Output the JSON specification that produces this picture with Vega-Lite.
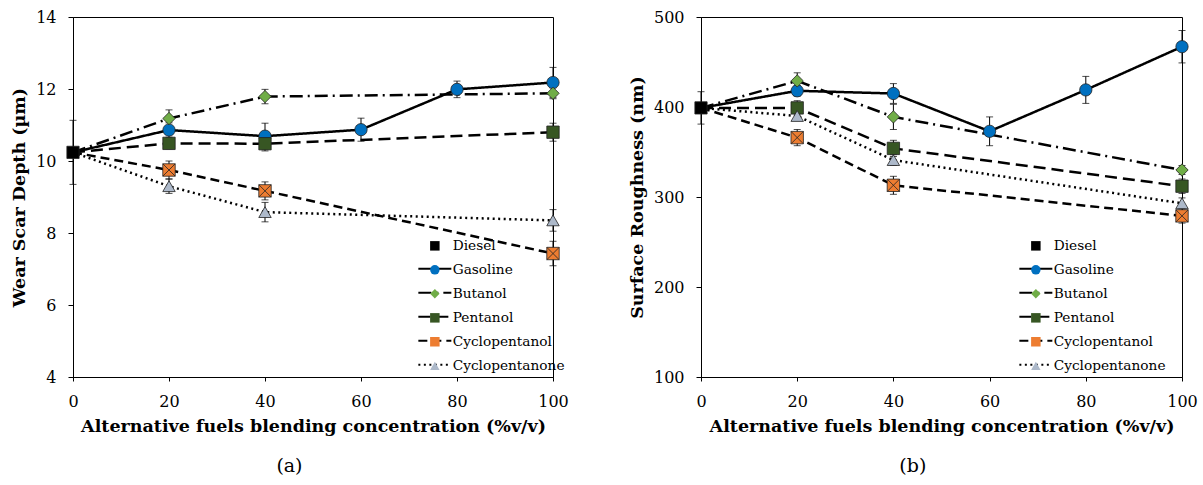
{
  "$schema": "https://vega.github.io/schema/vega-lite/v6.json",
  "padding": {"left": 10, "top": 8, "right": 0, "bottom": 0},
  "config": {
    "font": "DejaVu Serif",
    "view": {"stroke": "black", "strokeWidth": 1},
    "axis": {
      "grid": false, "labelFlush": false,
      "labelFont": "DejaVu Serif", "labelFontSize": 16, "labelColor": "black",
      "titleFont": "DejaVu Serif", "titleFontSize": 17.5, "titleFontWeight": "bold", "titleColor": "black",
      "domainColor": "black", "tickColor": "black", "tickSize": 5, "domainWidth": 1, "tickWidth": 1
    },
    "axisX": {"labelPadding": 12, "titlePadding": 8, "tickSize": 4},
    "axisY": {"labelPadding": 12, "titlePadding": 7},
    "legend": {"labelFont": "DejaVu Serif", "labelFontSize": 13.7, "labelColor": "black", "padding": 0}
  },
  "datasets": {
    "pts": [
      {"series": "Gasoline", "x": 0, "a": 10.24, "ea": 0, "b": 399, "eb": 0},
      {"series": "Gasoline", "x": 20, "a": 10.86, "ea": 0.2, "b": 418, "eb": 6},
      {"series": "Gasoline", "x": 40, "a": 10.69, "ea": 0.36, "b": 415, "eb": 11},
      {"series": "Gasoline", "x": 60, "a": 10.87, "ea": 0.32, "b": 373, "eb": 16},
      {"series": "Gasoline", "x": 80, "a": 11.99, "ea": 0.23, "b": 419, "eb": 15},
      {"series": "Gasoline", "x": 100, "a": 12.18, "ea": 0.42, "b": 467, "eb": 18},
      {"series": "Butanol", "x": 0, "a": 10.24, "ea": 0, "b": 399, "eb": 0},
      {"series": "Butanol", "x": 20, "a": 11.18, "ea": 0.24, "b": 429, "eb": 9},
      {"series": "Butanol", "x": 40, "a": 11.79, "ea": 0.2, "b": 389, "eb": 14},
      {"series": "Butanol", "x": 100, "a": 11.88, "ea": 0.15, "b": 330, "eb": 5},
      {"series": "Pentanol", "x": 0, "a": 10.24, "ea": 0, "b": 399, "eb": 0},
      {"series": "Pentanol", "x": 20, "a": 10.49, "ea": 0.15, "b": 399, "eb": 8},
      {"series": "Pentanol", "x": 40, "a": 10.48, "ea": 0.2, "b": 354, "eb": 9},
      {"series": "Pentanol", "x": 100, "a": 10.8, "ea": 0.25, "b": 312, "eb": 8},
      {"series": "Cyclopentanol", "x": 0, "a": 10.24, "ea": 0, "b": 399, "eb": 0},
      {"series": "Cyclopentanol", "x": 20, "a": 9.75, "ea": 0.25, "b": 366, "eb": 9},
      {"series": "Cyclopentanol", "x": 40, "a": 9.17, "ea": 0.25, "b": 313, "eb": 10},
      {"series": "Cyclopentanol", "x": 100, "a": 7.43, "ea": 0.34, "b": 279, "eb": 8},
      {"series": "Cyclopentanone", "x": 0, "a": 10.24, "ea": 0, "b": 399, "eb": 0},
      {"series": "Cyclopentanone", "x": 20, "a": 9.3, "ea": 0.2, "b": 390, "eb": 5},
      {"series": "Cyclopentanone", "x": 40, "a": 8.58, "ea": 0.27, "b": 341, "eb": 6},
      {"series": "Cyclopentanone", "x": 100, "a": 8.35, "ea": 0.3, "b": 293, "eb": 6},
      {"series": "Diesel", "x": 0, "a": 10.24, "ea": 0.89, "b": 399, "eb": 18}
    ]
  },
  "data": {"name": "pts"},
  "spacing": 58,
  "resolve": {"legend": {"fill": "independent", "shape": "independent", "strokeDash": "independent"}},
  "hconcat": [
    {
      "width": 480, "height": 360,
      "title": {"text": "(a)", "orient": "bottom", "anchor": "middle", "frame": "bounds", "font": "DejaVu Serif", "fontSize": 19, "fontWeight": "normal", "color": "black", "offset": 22},
      "layer": [
        {
          "transform": [{"filter": "datum.ea > 0"}],
          "mark": {"type": "errorbar", "color": "black", "thickness": 1, "ticks": {"size": 7, "color": "black"}},
          "encoding": {
            "x": {"field": "x", "type": "quantitative", "scale": {"domain": [0, 100], "nice": false}, "axis": {"values": [0, 20, 40, 60, 80, 100], "title": "Alternative fuels blending concentration (%v/v)"}},
            "y": {"field": "a", "type": "quantitative", "scale": {"domain": [4, 14], "nice": false, "zero": false}, "axis": {"values": [4, 6, 8, 10, 12, 14], "title": "Wear Scar Depth (µm)"}},
            "yError": {"field": "ea"}
          }
        },
        {
          "transform": [{"filter": "datum.series != 'Diesel'"}],
          "mark": {"type": "line", "color": "black", "strokeWidth": 2.5},
          "encoding": {
            "x": {"field": "x", "type": "quantitative", "scale": {"domain": [0, 100], "nice": false}, "axis": {"values": [0, 20, 40, 60, 80, 100], "title": "Alternative fuels blending concentration (%v/v)"}},
            "y": {"field": "a", "type": "quantitative", "scale": {"domain": [4, 14], "nice": false, "zero": false}, "axis": {"values": [4, 6, 8, 10, 12, 14], "title": "Wear Scar Depth (µm)"}},
            "order": {"field": "x"},
            "strokeDash": {"field": "series", "type": "nominal",
              "scale": {"domain": ["Gasoline", "Butanol", "Pentanol", "Cyclopentanol", "Cyclopentanone"], "range": [[1, 0], [13, 5, 2, 5], [12, 6], [9, 5], [2, 3.5]]},
              "legend": {"orient": "none", "legendX": 355, "legendY": 245, "title": null, "symbolType": "M-3,0H3", "symbolSize": 121, "symbolStrokeWidth": 2, "symbolStrokeColor": "black", "symbolFillColor": "transparent", "labelOpacity": 0, "labelOffset": 11, "rowPadding": 9, "zindex": 1}}
          }
        },
        {
          "transform": [{"filter": "datum.series == 'Diesel' || datum.x > 0"}],
          "mark": {"type": "point", "filled": true, "opacity": 1, "stroke": "#222222", "strokeWidth": 0.8},
          "encoding": {
            "x": {"field": "x", "type": "quantitative", "scale": {"domain": [0, 100], "nice": false}, "axis": {"values": [0, 20, 40, 60, 80, 100], "title": "Alternative fuels blending concentration (%v/v)"}},
            "y": {"field": "a", "type": "quantitative", "scale": {"domain": [4, 14], "nice": false, "zero": false}, "axis": {"values": [4, 6, 8, 10, 12, 14], "title": "Wear Scar Depth (µm)"}},
            "fill": {"field": "series", "type": "nominal",
              "scale": {"domain": ["Diesel", "Gasoline", "Butanol", "Pentanol", "Cyclopentanol", "Cyclopentanone"], "range": ["#000000", "#0070C0", "#70AD47", "#375623", "#ED7D31", "#ADB9CA"]},
              "legend": {"orient": "none", "legendX": 355, "legendY": 222, "title": null, "symbolSize": 90, "symbolStrokeColor": "#222222", "symbolStrokeWidth": 0.8, "labelOffset": 11, "rowPadding": 9, "zindex": 2}},
            "shape": {"field": "series", "type": "nominal",
              "scale": {"domain": ["Diesel", "Gasoline", "Butanol", "Pentanol", "Cyclopentanol", "Cyclopentanone"], "range": ["square", "circle", "diamond", "square", "M-1,-1H1V1H-1Z M-1,-1L1,1 M1,-1L-1,1", "triangle-up"]},
              "legend": {"orient": "none", "legendX": 355, "legendY": 222, "title": null, "symbolSize": 90, "symbolStrokeColor": "#222222", "symbolStrokeWidth": 0.8, "labelOffset": 11, "rowPadding": 9, "zindex": 2}},
            "size": {"field": "series", "type": "nominal",
              "scale": {"domain": ["Diesel", "Gasoline", "Butanol", "Pentanol", "Cyclopentanol", "Cyclopentanone"], "range": [150, 155, 100, 145, 150, 130]},
              "legend": null}
          }
        }
      ]
    },
    {
      "width": 481, "height": 360,
      "title": {"text": "(b)", "orient": "bottom", "anchor": "middle", "frame": "bounds", "font": "DejaVu Serif", "fontSize": 19, "fontWeight": "normal", "color": "black", "offset": 22},
      "layer": [
        {
          "transform": [{"filter": "datum.eb > 0"}],
          "mark": {"type": "errorbar", "color": "black", "thickness": 1, "ticks": {"size": 7, "color": "black"}},
          "encoding": {
            "x": {"field": "x", "type": "quantitative", "scale": {"domain": [0, 100], "nice": false}, "axis": {"values": [0, 20, 40, 60, 80, 100], "title": "Alternative fuels blending concentration (%v/v)"}},
            "y": {"field": "b", "type": "quantitative", "scale": {"domain": [100, 500], "nice": false, "zero": false}, "axis": {"values": [100, 200, 300, 400, 500], "title": "Surface Roughness (nm)"}},
            "yError": {"field": "eb"}
          }
        },
        {
          "transform": [{"filter": "datum.series != 'Diesel'"}],
          "mark": {"type": "line", "color": "black", "strokeWidth": 2.5},
          "encoding": {
            "x": {"field": "x", "type": "quantitative", "scale": {"domain": [0, 100], "nice": false}, "axis": {"values": [0, 20, 40, 60, 80, 100], "title": "Alternative fuels blending concentration (%v/v)"}},
            "y": {"field": "b", "type": "quantitative", "scale": {"domain": [100, 500], "nice": false, "zero": false}, "axis": {"values": [100, 200, 300, 400, 500], "title": "Surface Roughness (nm)"}},
            "order": {"field": "x"},
            "strokeDash": {"field": "series", "type": "nominal",
              "scale": {"domain": ["Gasoline", "Butanol", "Pentanol", "Cyclopentanol", "Cyclopentanone"], "range": [[1, 0], [13, 5, 2, 5], [12, 6], [9, 5], [2, 3.5]]},
              "legend": {"orient": "none", "legendX": 328, "legendY": 245, "title": null, "symbolType": "M-3,0H3", "symbolSize": 121, "symbolStrokeWidth": 2, "symbolStrokeColor": "black", "symbolFillColor": "transparent", "labelOpacity": 0, "labelOffset": 11, "rowPadding": 9, "zindex": 1}}
          }
        },
        {
          "transform": [{"filter": "datum.series == 'Diesel' || datum.x > 0"}],
          "mark": {"type": "point", "filled": true, "opacity": 1, "stroke": "#222222", "strokeWidth": 0.8},
          "encoding": {
            "x": {"field": "x", "type": "quantitative", "scale": {"domain": [0, 100], "nice": false}, "axis": {"values": [0, 20, 40, 60, 80, 100], "title": "Alternative fuels blending concentration (%v/v)"}},
            "y": {"field": "b", "type": "quantitative", "scale": {"domain": [100, 500], "nice": false, "zero": false}, "axis": {"values": [100, 200, 300, 400, 500], "title": "Surface Roughness (nm)"}},
            "fill": {"field": "series", "type": "nominal",
              "scale": {"domain": ["Diesel", "Gasoline", "Butanol", "Pentanol", "Cyclopentanol", "Cyclopentanone"], "range": ["#000000", "#0070C0", "#70AD47", "#375623", "#ED7D31", "#ADB9CA"]},
              "legend": {"orient": "none", "legendX": 328, "legendY": 222, "title": null, "symbolSize": 90, "symbolStrokeColor": "#222222", "symbolStrokeWidth": 0.8, "labelOffset": 11, "rowPadding": 9, "zindex": 2}},
            "shape": {"field": "series", "type": "nominal",
              "scale": {"domain": ["Diesel", "Gasoline", "Butanol", "Pentanol", "Cyclopentanol", "Cyclopentanone"], "range": ["square", "circle", "diamond", "square", "M-1,-1H1V1H-1Z M-1,-1L1,1 M1,-1L-1,1", "triangle-up"]},
              "legend": {"orient": "none", "legendX": 328, "legendY": 222, "title": null, "symbolSize": 90, "symbolStrokeColor": "#222222", "symbolStrokeWidth": 0.8, "labelOffset": 11, "rowPadding": 9, "zindex": 2}},
            "size": {"field": "series", "type": "nominal",
              "scale": {"domain": ["Diesel", "Gasoline", "Butanol", "Pentanol", "Cyclopentanol", "Cyclopentanone"], "range": [150, 155, 100, 145, 150, 130]},
              "legend": null}
          }
        }
      ]
    }
  ]
}
